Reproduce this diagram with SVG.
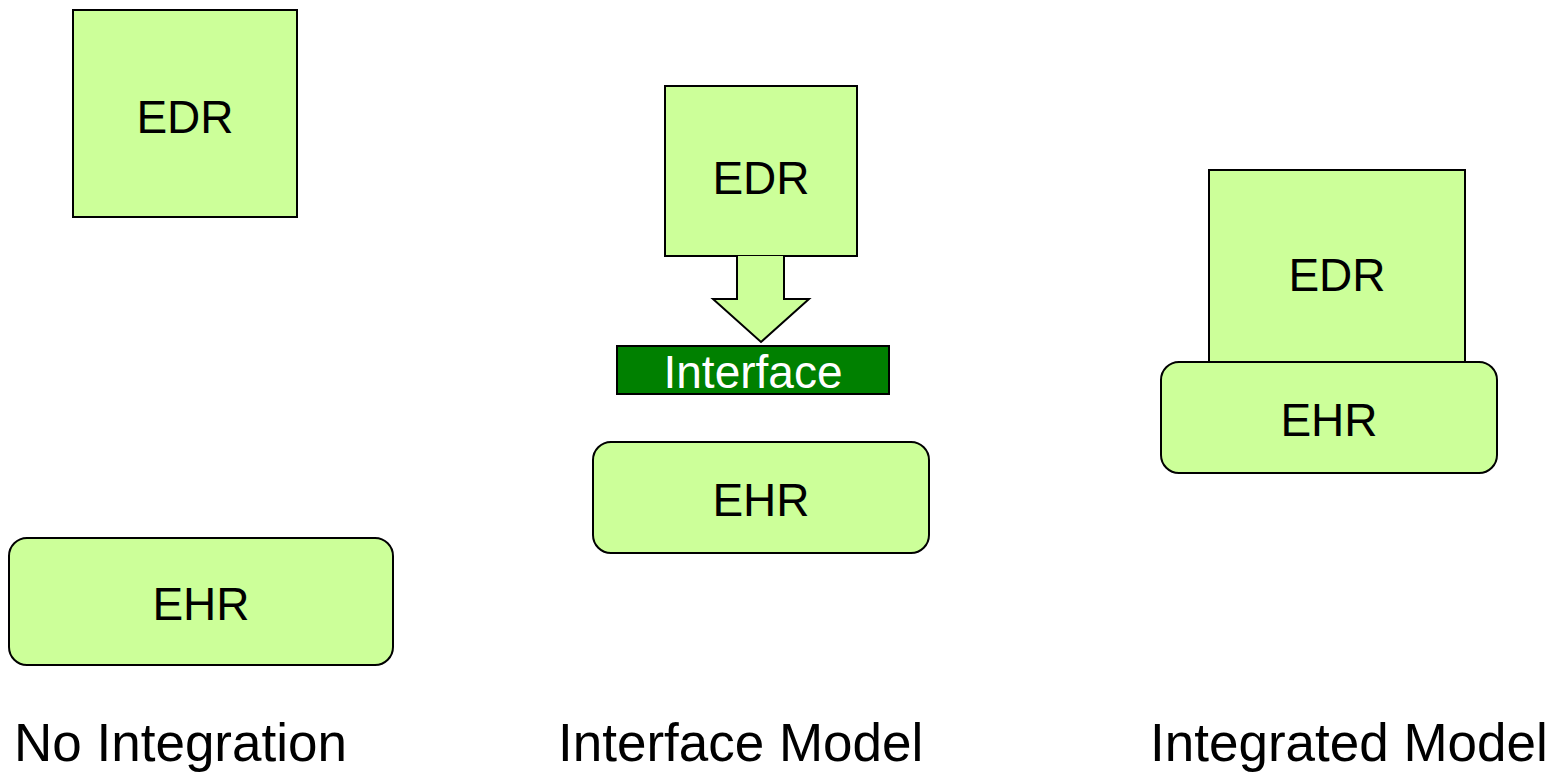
<svg xmlns="http://www.w3.org/2000/svg" width="1553" height="772" viewBox="0 0 1553 772">
  <style>
    .box { fill: #CCFF99; stroke: #000; stroke-width: 2; }
    .iface { fill: #008000; stroke: #000; stroke-width: 2; }
    .lbl { font-family: "Liberation Sans", Arial, sans-serif; font-size: 46px; fill: #000; text-anchor: middle; }
    .wlbl { font-family: "Liberation Sans", Arial, sans-serif; font-size: 46px; fill: #fff; text-anchor: middle; }
    .cap { font-family: "Liberation Sans", Arial, sans-serif; font-size: 53px; fill: #000; }
  </style>
  <rect width="1553" height="772" fill="#fff"/>

  <!-- No Integration -->
  <g id="edr-none">
    <rect class="box" x="73" y="10" width="224" height="207"/>
    <text class="lbl" x="185" y="133">EDR</text>
  </g>
  <g id="ehr-none">
    <rect class="box" x="9" y="538" width="384" height="127" rx="18"/>
    <text class="lbl" x="201" y="620">EHR</text>
  </g>

  <!-- Interface Model -->
  <g id="edr-interface">
    <rect class="box" x="665" y="86" width="192" height="170"/>
    <text class="lbl" x="761" y="194">EDR</text>
  </g>
  <g id="connectors">
    <path class="box" d="M737 256 V299 H713 L761 342 L809 299 H784 V256"/>
  </g>
  <g id="interface">
    <rect class="iface" x="617" y="346" width="272" height="48"/>
    <text class="wlbl" x="753" y="388">Interface</text>
  </g>
  <g id="ehr-interface">
    <rect class="box" x="593" y="442" width="336" height="111" rx="18"/>
    <text class="lbl" x="761" y="516">EHR</text>
  </g>

  <!-- Integrated Model -->
  <g id="edr-integrated">
    <rect class="box" x="1209" y="170" width="256" height="200"/>
    <text class="lbl" x="1337" y="291">EDR</text>
  </g>
  <g id="ehr-integrated">
    <rect class="box" x="1161" y="362" width="336" height="111" rx="18"/>
    <text class="lbl" x="1329" y="436">EHR</text>
  </g>

  <!-- Captions -->
  <g id="captions">
    <text class="cap" x="14" y="761">No Integration</text>
    <text class="cap" x="558" y="761">Interface Model</text>
    <text class="cap" x="1150" y="761">Integrated Model</text>
  </g>
</svg>
